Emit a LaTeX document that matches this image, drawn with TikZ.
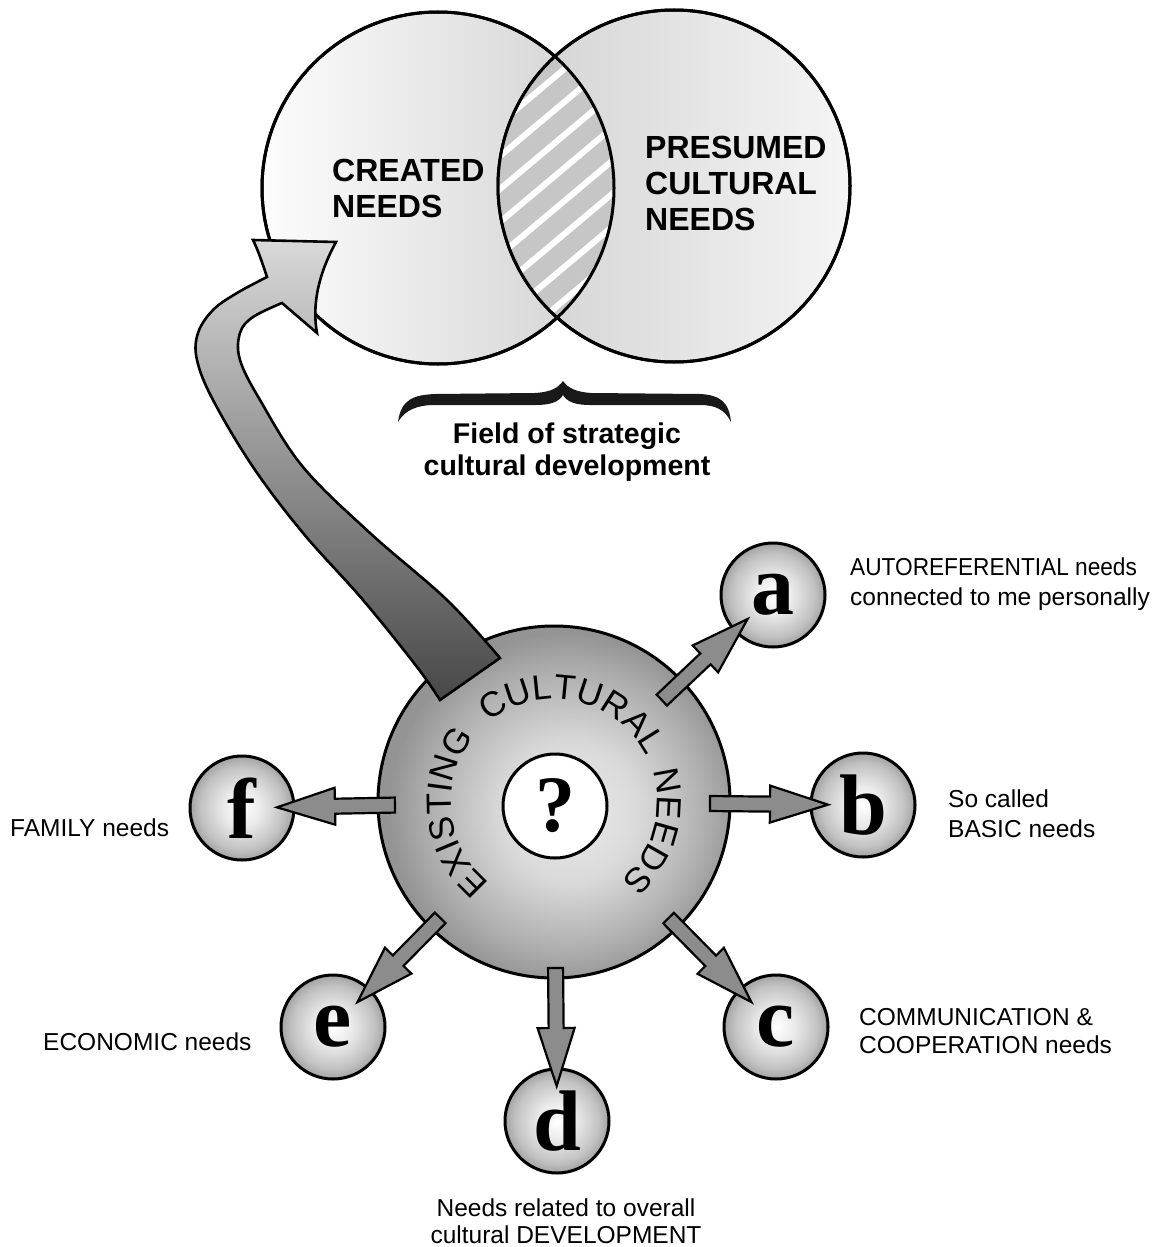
\documentclass[tikz,border=0pt]{standalone}
\usepackage{fontspec}
\usepackage{graphicx}
\setmainfont{Liberation Sans}
\newfontfamily\letterfont{Liberation Serif}
\usetikzlibrary{calc,decorations.text}

\pgfdeclareradialshading{smallball}{\pgfpoint{0bp}{0bp}}{color(0bp)=(white); color(9bp)=(black!8); color(20bp)=(black!24); color(25bp)=(black!36); color(50bp)=(black!36)}
\pgfdeclareradialshading{bigball}{\pgfpoint{3bp}{-2bp}}{color(0bp)=(black!8); color(10bp)=(black!15); color(20bp)=(black!32); color(25bp)=(black!42); color(50bp)=(black!42)}

\tikzset{
  venn/.style={circle, draw=black, line width=3pt, minimum size=352pt, inner sep=0pt},
  ball/.style={circle, draw=black, line width=3pt, minimum size=352pt, inner sep=0pt, shading=bigball},
  small/.style={circle, draw=black, line width=3pt, minimum size=104pt, inner sep=0pt, shading=smallball, font=\letterfont\bfseries\fontsize{86}{86}\selectfont},
  qball/.style={circle, draw=black, line width=3pt, minimum size=104pt, inner sep=0pt, fill=white, font=\letterfont\bfseries\fontsize{80}{80}\selectfont},
  head/.style={font=\bfseries\fontsize{32}{36}\selectfont, align=left, inner sep=0pt, anchor=west},
  field/.style={font=\bfseries\fontsize{28.5}{31.5}\selectfont, align=center, inner sep=0pt},
  lbl/.style={font=\fontsize{24.5}{30}\selectfont, align=left, inner sep=0pt, anchor=west},
  smallarr/.style={fill=black!45, draw=black, line width=2.2pt, line join=miter},
  bigarr/.style={draw=black, line width=2.6pt, top color=black!15, bottom color=black!72, line join=miter},
  ringtext/.style={decorate, decoration={text along path, text align=center, text={|\fontsize{35}{35}\selectfont|#1}}}
}

\newcommand\blockarrow[2]{%
  \pgfmathanglebetweenpoints{\pgfpointanchor{#1}{center}}{\pgfpointanchor{#2}{center}}%
  \let\baang\pgfmathresult
  \begin{scope}[shift={($(#2.center)!35pt!(#1.center)$)}, rotate=\baang]
    \draw[smallarr] (-118,-7.5) -- (-58,-7.5) -- (-58,-18.5) -- (0,0) -- (-58,18.5) -- (-58,7.5) -- (-118,7.5) -- cycle;
  \end{scope}}

\begin{document}
\begin{tikzpicture}[x=1pt,y=1pt]
\fill[white] (0,0) rectangle (1171,-1247);
\useasboundingbox (0,0) rectangle (1171,-1247);

% Venn circles
\node[venn, left color=gray!2, right color=gray!36] (created) at (438,-188) {};
\node[venn, left color=gray!36, right color=gray!8] (presumed) at (674,-186) {};
\begin{scope}
  \clip (created.center) circle (176pt);
  \clip (presumed.center) circle (176pt);
  \fill[gray!45] (400,0) rectangle (720,-400);
  \foreach \k in {-12,...,12} \draw[white, line width=6pt] (306,-418+33*\k) -- (806,2+33*\k);
\end{scope}
\draw[line width=3pt] (created.center) circle (176pt) (presumed.center) circle (176pt);

\node[head] (tcreated) at (332,-188) {CREATED\\NEEDS};
\node[head] (tpresumed) at (645,-183) {PRESUMED\\CULTURAL\\NEEDS};

% brace
\fill[black!90] (398,-422) .. controls (401,-399) and (414,-395) .. (435,-394) -- (535,-393)
  .. controls (551,-392) and (558,-388) .. (563,-381)
  .. controls (568,-388) and (576,-392) .. (591,-393) -- (700,-394)
  .. controls (719,-395) and (729,-401) .. (731,-422)
  .. controls (725,-410) and (716,-405) .. (700,-405) -- (590,-405)
  .. controls (576,-405) and (567,-402) .. (563,-395)
  .. controls (559,-402) and (550,-405) .. (536,-405) -- (435,-405)
  .. controls (417,-405) and (405,-410) .. (398,-422) -- cycle;
\node[field] (tfield) at (567,-452) {Field of strategic\\cultural development};

% big ball
\node[ball] (ecn) at (554,-802) {};
\path[ringtext=EXISTING] ($(ecn.center)+(246:103pt)$) arc[start angle=246, end angle=126, radius=103pt];
\path[ringtext=CULTURAL] ($(ecn.center)+(138:103pt)$) arc[start angle=138, end angle=18, radius=103pt];
\path[ringtext=NEEDS] ($(ecn.center)+(44:103pt)$) arc[start angle=44, end angle=-76, radius=103pt];
\node[qball] (q) at (555,-806) {?};

% small balls
\node[small] (a) at (773,-595) {a};
\node[small] (b) at (863,-805) {b};
\node[small] (c) at (776,-1027) {c};
\node[small] (d) at (557,-1121) {d};
\node[small] (e) at (333,-1027) {e};
\node[small] (f) at (242,-808) {f};

\blockarrow{ecn}{a}
\blockarrow{ecn}{b}
\blockarrow{ecn}{c}
\blockarrow{ecn}{d}
\blockarrow{ecn}{e}
\blockarrow{ecn}{f}

% big curved arrow
\draw[bigarr] (440,-700) -- (500,-658)
  -- plot[smooth, tension=0.6] coordinates {(500,-658) (447,-600) (370,-533) (303,-467) (260,-400) (240,-360) (240,-333) (253,-317) (282,-303)}
  -- (317,-333) .. controls (312,-305) and (318,-275) .. (336,-242)
  -- (253,-240) .. controls (258,-250) and (262,-262) .. (267,-277)
  -- plot[smooth, tension=0.6] coordinates {(267,-277) (237,-293) (213,-310) (198,-333) (197,-360) (213,-400) (253,-467) (303,-533) (363,-600) (417,-667) (440,-700)}
  -- cycle;

% labels
\node[lbl] (la) at (850,-584) {\scalebox{0.925}[1]{AUTOREFERENTIAL needs}\\connected to me personally};
\node[lbl] (lb) at (948,-814) {So called\\BASIC needs};
\node[lbl, font=\fontsize{24.5}{28}\selectfont] (lc) at (859,-1031) {COMMUNICATION \&\\COOPERATION needs};
\node[lbl, anchor=center, align=center, font=\fontsize{24.5}{27}\selectfont] (ld) at (566,-1221) {Needs related to overall\\cultural DEVELOPMENT};
\node[lbl] (le) at (43,-1042) {ECONOMIC needs};
\node[lbl] (lf) at (10,-828) {FAMILY needs};
\end{tikzpicture}
\end{document}
